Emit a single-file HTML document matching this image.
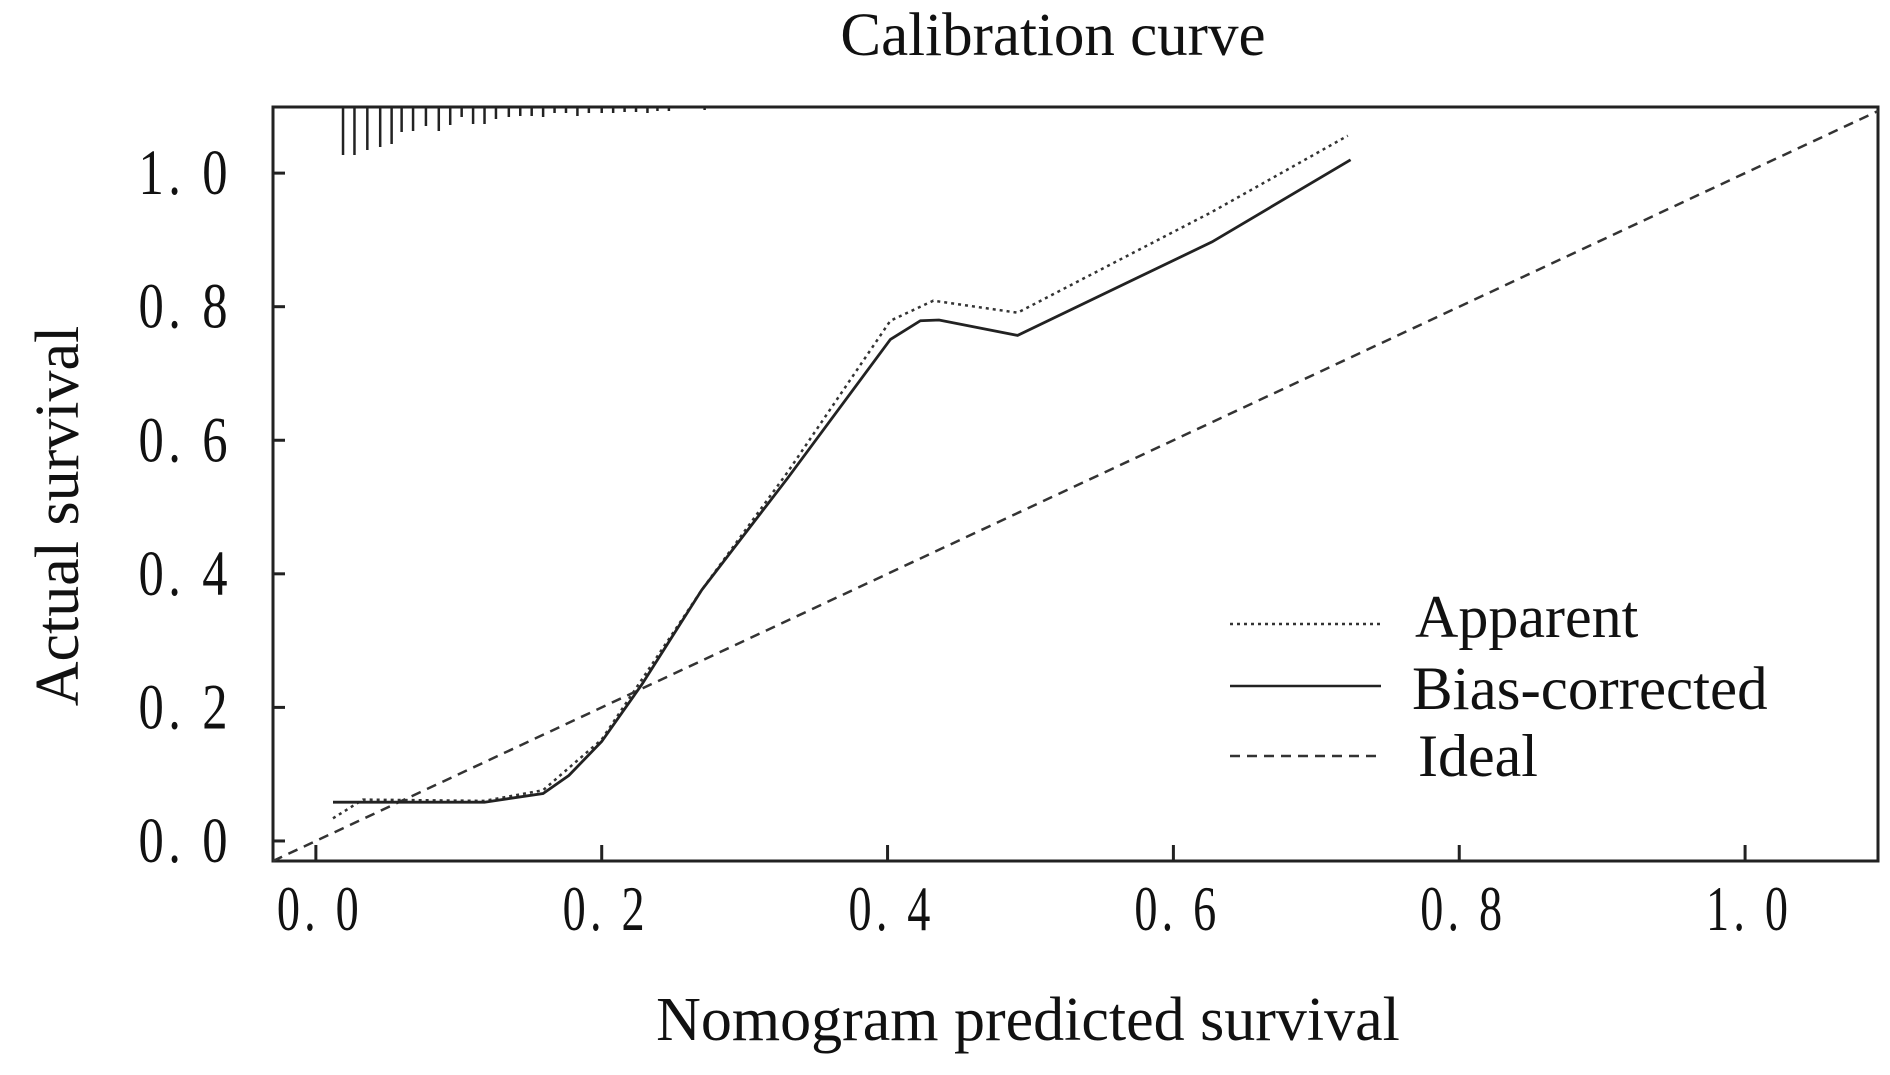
<!DOCTYPE html>
<html><head><meta charset="utf-8"><style>
body{margin:0;background:#fff;}
svg{display:block;}
text{font-family:"Liberation Serif",serif;fill:#111;}
</style></head><body>
<svg id="chart" width="1890" height="1075" viewBox="0 0 1890 1075">
<text x="1053" y="55" font-size="61" text-anchor="middle">Calibration curve</text>
<text x="1028" y="1040" font-size="62" text-anchor="middle">Nomogram predicted survival</text>
<text transform="translate(78,516) rotate(-90)" font-size="62" text-anchor="middle">Actual survival</text>
<g id="plot"></g>
<g>
<line x1="1230" y1="624" x2="1381" y2="624" stroke="#333" stroke-width="2.5" stroke-dasharray="3,4"/>
<text x="1415" y="637" font-size="60">Apparent</text>
<line x1="1230" y1="686" x2="1381" y2="686" stroke="#222" stroke-width="2.5"/>
<text x="1412" y="709" font-size="61">Bias-corrected</text>
<line x1="1230" y1="756" x2="1381" y2="756" stroke="#333" stroke-width="2.5" stroke-dasharray="10,7"/>
<text x="1418" y="776" font-size="60">Ideal</text>
</g>
</svg>
<script>
const xTicks=[0,0.2,0.4,0.6,0.8,1.0];
const xTickLabels=["0. 0","0. 2","0. 4","0. 6","0. 8","1. 0"];
const yTicks=[0,0.2,0.4,0.6,0.8,1.0];
const yTickLabels=["0. 0","0. 2","0. 4","0. 6","0. 8","1. 0"];
const biasX=[0.012,0.118,0.159,0.177,0.2,0.228,0.27,0.33,0.402,0.423,0.436,0.491,0.627,0.724];
const biasY=[0.058,0.058,0.071,0.098,0.149,0.234,0.376,0.543,0.751,0.779,0.780,0.757,0.897,1.02];
const appX=[0.012,0.033,0.118,0.159,0.2,0.27,0.33,0.402,0.432,0.491,0.627,0.722];
const appY=[0.034,0.062,0.060,0.076,0.152,0.376,0.552,0.779,0.809,0.791,0.942,1.056];
const rugX=[0.019,0.027,0.036,0.045,0.053,0.060,0.068,0.077,0.086,0.094,0.102,0.110,0.118,0.126,0.135,0.143,0.151,0.159,0.167,0.175,0.183,0.191,0.200,0.208,0.216,0.224,0.232,0.239,0.247,0.272];
const rugLen=[48,48,43,40,37,25,24,19,24,18,10,17,17,12,10,9,9,10,6,6,9,6,6,6,5,5,6,4,4,3];
const L=273,R=1878,T=107,B=861;
const xMin=-0.030,xMax=1.093,yMin=-0.030,yMax=1.099;
function sx(v){return L+(v-xMin)/(xMax-xMin)*(R-L);}
function sy(v){return B-(v-yMin)/(yMax-yMin)*(B-T);}
const NS="http://www.w3.org/2000/svg";
const g=document.getElementById('plot');
function mk(tag,attrs){const e=document.createElementNS(NS,tag);for(const k in attrs)e.setAttribute(k,attrs[k]);g.appendChild(e);return e;}
let fr=mk('rect',{x:L,y:T,width:R-L,height:B-T,fill:'none',stroke:'#222','stroke-width':3});


xTicks.forEach((v,i)=>{
 let t=mk('line',{x1:sx(v),x2:sx(v),y1:B,y2:B-16,stroke:'#222','stroke-width':3});
 
 
 let tx=mk('text',{transform:'translate('+(sx(v)+4)+','+(B+69)+') scale(1.05,1.45)','font-size':44,'text-anchor':'middle','letter-spacing':'4'});
 tx.textContent=xTickLabels[i];
 
 
});
yTicks.forEach((v,i)=>{
 let t=mk('line',{x1:L,x2:L+12,y1:sy(v),y2:sy(v),stroke:'#222','stroke-width':3});
 
 
 let tx=mk('text',{transform:'translate('+(L-41)+','+(sy(v)+21)+') scale(1.1,1.4)','font-size':46,'text-anchor':'end','letter-spacing':'4'});
 tx.textContent=yTickLabels[i];
 
 
});
rugX.forEach((v,i)=>{
 let r=mk('line',{x1:sx(v),x2:sx(v),y1:T,y2:T+rugLen[i],stroke:'#222','stroke-width':2.5});
 
 
});
let ideal=mk('line',{x1:sx(xMin),y1:sy(xMin),x2:sx(xMax),y2:sy(xMax),stroke:'#333','stroke-width':2.5,'stroke-dasharray':'10,7'});


function path(xs,ys){return xs.map((x,i)=>(i?'L':'M')+sx(x).toFixed(1)+','+sy(ys[i]).toFixed(1)).join(' ');}
let ap=mk('path',{d:path(appX,appY),fill:'none',stroke:'#333','stroke-width':2.5,'stroke-dasharray':'3,4'});


let bc=mk('path',{d:path(biasX,biasY),fill:'none',stroke:'#222','stroke-width':2.8});


</script>
</body></html>
